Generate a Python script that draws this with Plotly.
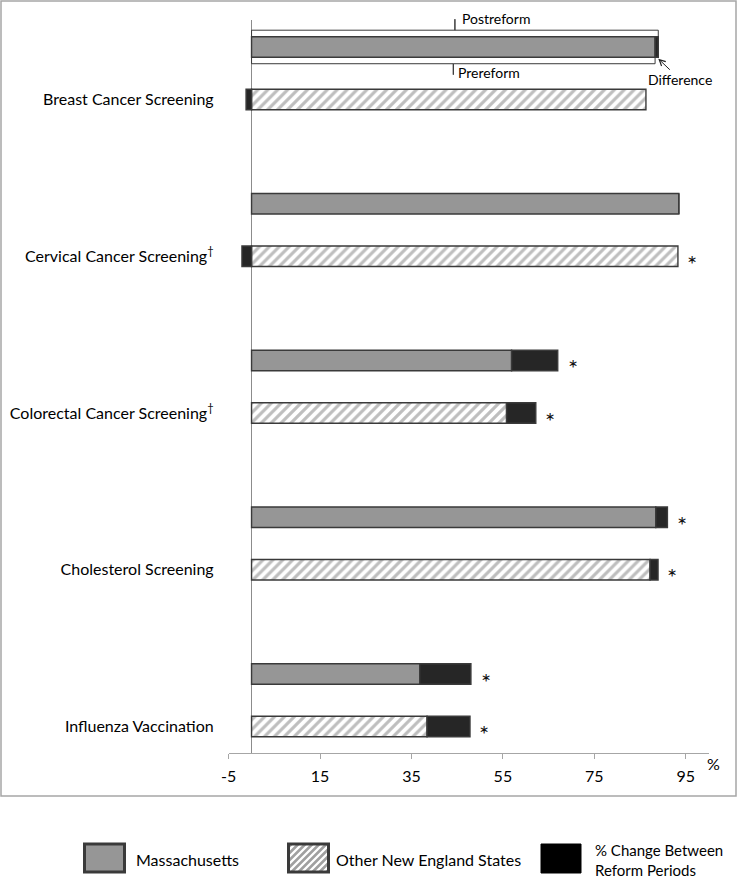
import plotly.graph_objects as go

# ---------------- data ----------------
categories = [
    "Breast Cancer Screening",
    "Cervical Cancer Screening<sup>†</sup>",
    "Colorectal Cancer Screening<sup>†</sup>",
    "Cholesterol Screening",
    "Influenza Vaccination",
]
ma_pre = [88.3, 93.5, 56.9, 88.45, 36.8]
ma_change = [0.7, 0.0, 10.1, 2.55, 11.2]
other_pre = [86.3, 93.3, 55.8, 87.2, 38.4]
other_change = [-1.2, -2.1, 6.4, 1.75, 9.4]
ma_significant = [False, False, True, True, True]
other_significant = [False, True, True, True, True]
x_tick_values = [-5, 15, 35, 55, 75, 95]
x_tick_labels = ["-5", "15", "35", "55", "75", "95"]

# ---------------- layout geometry (pixels) ----------------
W, H = 742, 877
PLOT_L, PLOT_R, PLOT_T, PLOT_B = 228.7, 708.55, 20.0, 752.7
X_RANGE = [-5, 100]
Y_RANGE = [-0.167, 4.507]
MA_OFFSET = 0.335
BAR_W = 0.131

FONT = "Lato, 'Open Sans', sans-serif"
GRAY = "#969696"
DARK = "#262626"
OUTLINE = "#3a3a3a"
FRAME = "#a6a6a6"

n = len(categories)
y_other = [n - 1 - i for i in range(n)]
y_ma = [v + MA_OFFSET for v in y_other]

xdom = [PLOT_L / W, PLOT_R / W]
ydom = [1 - PLOT_B / H, 1 - PLOT_T / H]


def px_x(px):
    return px / W


def px_y(py):
    return 1 - py / H


def dx(v):
    return xdom[0] + (v - X_RANGE[0]) / (X_RANGE[1] - X_RANGE[0]) * (xdom[1] - xdom[0])


def dy(v):
    return ydom[0] + (v - Y_RANGE[0]) / (Y_RANGE[1] - Y_RANGE[0]) * (ydom[1] - ydom[0])


PX_PER_Y = (PLOT_B - PLOT_T) / (Y_RANGE[1] - Y_RANGE[0])

fig = go.Figure()
line = dict(color=OUTLINE, width=1.4)
fig.add_trace(go.Bar(y=y_ma, x=ma_pre, orientation="h", width=BAR_W,
                     marker=dict(color=GRAY, line=line), name="Massachusetts"))
fig.add_trace(go.Bar(y=y_ma, x=ma_change, orientation="h", width=BAR_W,
                     marker=dict(color=DARK, line=line), name="Change MA"))
fig.add_trace(go.Bar(y=y_other, x=other_pre, orientation="h", width=BAR_W,
                     marker=dict(color="white", line=line,
                                 pattern=dict(shape="/", fgcolor="#7d7d7d", bgcolor="white",
                                              size=7, solidity=0.45)),
                     name="Other New England States"))
fig.add_trace(go.Bar(y=y_other, x=other_change, orientation="h", width=BAR_W,
                     marker=dict(color=DARK, line=line), name="Change Other"))

annotations = []
# significance stars
star_font = dict(family=FONT, size=24, color="#111111")
for i in range(n):
    if ma_significant[i]:
        annotations.append(dict(x=ma_pre[i] + max(ma_change[i], 0), y=y_ma[i], xref="x", yref="y",
                                text="*", showarrow=False, xshift=15, yshift=-7, font=star_font))
    if other_significant[i]:
        annotations.append(dict(x=other_pre[i] + max(other_change[i], 0), y=y_other[i], xref="x", yref="y",
                                text="*", showarrow=False, xshift=14, yshift=-7, font=star_font))

# explanatory brackets on first Massachusetts bar
post0 = ma_pre[0] + ma_change[0]
pre0 = ma_pre[0]
bar_top = y_ma[0] + BAR_W / 2
bar_bot = y_ma[0] - BAR_W / 2
g = 6.5 / PX_PER_Y
tk = 11 / PX_PER_Y
shapes = []
yb = bar_top + g
shapes.append(dict(type="path", xref="paper", yref="paper",
                   path=f"M {dx(0)},{dy(bar_top)} L {dx(0)},{dy(yb)} L {dx(post0/2)},{dy(yb)} "
                        f"L {dx(post0/2)},{dy(yb+tk)} L {dx(post0/2)},{dy(yb)} L {dx(post0)},{dy(yb)} "
                        f"L {dx(post0)},{dy(bar_top)}",
                   line=dict(color=OUTLINE, width=1)))
yb2 = bar_bot - g
shapes.append(dict(type="path", xref="paper", yref="paper",
                   path=f"M {dx(0)},{dy(bar_bot)} L {dx(0)},{dy(yb2)} L {dx(pre0/2)},{dy(yb2)} "
                        f"L {dx(pre0/2)},{dy(yb2-tk)} L {dx(pre0/2)},{dy(yb2)} L {dx(pre0)},{dy(yb2)} "
                        f"L {dx(pre0)},{dy(bar_bot)}",
                   line=dict(color=OUTLINE, width=1)))
annotations.append(dict(x=dx(post0 / 2), y=dy(yb + tk), xref="paper", yref="paper", text="Postreform",
                        showarrow=False, xanchor="left", yanchor="middle", xshift=5, yshift=1,
                        font=dict(family=FONT, size=14, color="black")))
annotations.append(dict(x=dx(pre0 / 2), y=dy(yb2 - tk), xref="paper", yref="paper", text="Prereform",
                        showarrow=False, xanchor="left", yanchor="middle", xshift=3, yshift=2,
                        font=dict(family=FONT, size=14, color="black")))
annotations.append(dict(x=dx(post0), y=dy(bar_bot - 1.5 / PX_PER_Y), xref="paper", yref="paper",
                        text="Difference", showarrow=True, ax=22, ay=21, arrowhead=5,
                        arrowsize=1.2, arrowwidth=1, arrowcolor="#222", standoff=0,
                        font=dict(family=FONT, size=14, color="black")))

# % axis unit
annotations.append(dict(x=px_x(722), y=px_y(775), xref="paper", yref="paper", text="%",
                        showarrow=False, font=dict(family=FONT, size=16, color="black")))

# outer frame
shapes.append(dict(type="rect", xref="paper", yref="paper", x0=px_x(1), x1=px_x(736),
                   y0=px_y(796), y1=px_y(1), line=dict(color=FRAME, width=1.5)))

# ---------------- custom legend ----------------
LY0, LY1 = 843, 873
shapes.append(dict(type="rect", xref="paper", yref="paper", x0=px_x(84.5), x1=px_x(124.5),
                   y0=px_y(LY1 - 1), y1=px_y(LY0 + 1), fillcolor=GRAY,
                   line=dict(color="#3a3a3a", width=3)))
hx0, hx1 = 288.5, 328.5
hy0, hy1 = LY0 + 1, LY1 - 1
segs = []
step = 7
k = hx0 + hy0 + 3
while k < hx1 + hy1:
    xa = max(hx0, k - hy1)
    xb = min(hx1, k - hy0)
    if xb > xa:
        segs.append(f"M {px_x(xa)},{px_y(k - xa)} L {px_x(xb)},{px_y(k - xb)}")
    k += step
shapes.append(dict(type="path", xref="paper", yref="paper", path=" ".join(segs),
                   line=dict(color="#a0a0a0", width=2.5)))
shapes.append(dict(type="rect", xref="paper", yref="paper", x0=px_x(hx0), x1=px_x(hx1),
                   y0=px_y(hy1), y1=px_y(hy0), line=dict(color="#3a3a3a", width=3)))
shapes.append(dict(type="rect", xref="paper", yref="paper", x0=px_x(541), x1=px_x(581),
                   y0=px_y(LY1), y1=px_y(LY0 + 1), fillcolor="black",
                   line=dict(color="black", width=1)))
legend_texts = [(134, 859, "Massachusetts", 16), (334, 859, "Other New England States", 16),
                (593, 860, "% Change Between<br>Reform Periods", 15)]
for lx, ly, t, fs in legend_texts:
    annotations.append(dict(x=px_x(lx), y=px_y(ly), xref="paper", yref="paper", text=t,
                            showarrow=False, xanchor="left", yanchor="middle", align="left",
                            font=dict(family=FONT, size=fs, color="black")))

fig.update_layout(
    width=W, height=H, barmode="relative", showlegend=False,
    margin=dict(l=0, r=0, t=0, b=0, autoexpand=False),
    plot_bgcolor="white", paper_bgcolor="white",
    font=dict(family=FONT, size=16, color="black"),
    xaxis=dict(domain=xdom, range=X_RANGE, tickvals=x_tick_values, ticktext=x_tick_labels,
               showgrid=False, automargin=False,
               showline=True, linecolor=FRAME, linewidth=1, ticks="outside", ticklen=5,
               tickcolor=FRAME, zeroline=True, zerolinecolor="#8c8c8c", zerolinewidth=1,
               ticklabelstandoff=4, tickfont=dict(family=FONT, size=16, color="black")),
    yaxis=dict(domain=ydom, range=Y_RANGE, tickvals=y_other, ticktext=categories,
               showgrid=False, zeroline=False, showline=False, ticks="", automargin=False,
               ticklabelstandoff=14, tickfont=dict(family=FONT, size=16, color="black")),
    shapes=shapes, annotations=annotations,
)

fig.write_html("out.html", config={"displayModeBar": False},
               post_script="document.body.style.margin='0';")
